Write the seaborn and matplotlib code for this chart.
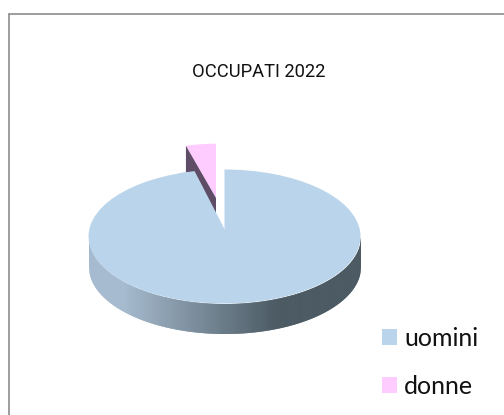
import numpy as np
import matplotlib
matplotlib.use('Agg')
import matplotlib.pyplot as plt
from matplotlib.lines import Line2D
from matplotlib.patches import Polygon
import seaborn as sns

title = 'OCCUPATI 2022'
labels = ['uomini', 'donne']
values = [95.6, 4.4]
colors = ['#BAD5EB', '#FFCCFF']

W, H = 504, 415
cx, cy, rx, ry = 224.5, 236.5, 136, 67
depth = 30 / ry

sns.set_theme(style='white')
palette = sns.color_palette(colors)

fig = plt.figure(figsize=(W / 100, H / 100), dpi=100, facecolor='white')
ax = fig.add_axes([0, 0, 1, 1])

wedges, _ = ax.pie(values, colors=palette, startangle=90, counterclock=False,
                   wedgeprops={'linewidth': 0, 'zorder': 4})
ax.set_aspect('auto')
ax.set_xlim(-cx / rx, (W - cx) / rx)
ax.set_ylim((cy - H) / ry, cy / ry)
ax.axis('off')

# the small slice is pulled out and drawn a bit smaller
pink = wedges[1]
pink.set_center((-8.5 / rx, 38.5 / ry))
pink.set_radius(0.81)
pink.set_zorder(3)

# side wall of the disc, each strip overlaps the next one so no seams show
xs = np.linspace(-1, 1, 400)
top = -np.sqrt(1 - xs ** 2)
light = np.array(matplotlib.colors.to_rgb('#A6BBCF'))
dark = np.array(matplotlib.colors.to_rgb('#4B5A63'))
for i in range(len(xs) - 1):
    t = np.clip((xs[i] + 0.75) / 1.13, 0, 1)
    ax.fill_between(xs[i:i + 3], top[i:i + 3], top[i:i + 3] - depth,
                    color=light + (dark - light) * t, lw=0, zorder=2)

# dark cut face of the small slice
a = np.radians(values[1] / 100 * 360)
px, py = pink.center
rim = (px - pink.r * np.sin(a), py + pink.r * np.cos(a))
ax.add_patch(Polygon([(px, py), rim, (rim[0], rim[1] - depth), (px, py - depth)],
                     closed=True, fc='#5F4C66', ec='none', zorder=3))

# blue wedge tip stops above the centre of the disc, patch overlaps the big wedge
tip = (0, 7.5 / ry)
arc = np.radians(np.linspace(12.7, np.degrees(a) + 4, 12))
patch_pts = ([tip] + list(zip(-np.sin(arc), np.cos(arc)))
             + [(-0.04, -0.06), (0.04, -0.06), (0.04, 0)])
ax.add_patch(Polygon(patch_pts, closed=True, fc=palette[0], ec='none', zorder=4))

# only the top and left border of the chart area are inside the crop
fig.add_artist(Line2D([8.5 / W, 8.5 / W], [0, 1 - 14.5 / H], color='#8C8C8C', lw=1.2))
fig.add_artist(Line2D([8.5 / W, 1], [1 - 14.5 / H, 1 - 14.5 / H], color='#8C8C8C', lw=1.2))

fig.text(258.5 / W, 1 - 72 / H, title, ha='center', va='center', color='#111111',
         family='Roboto', fontsize=13.2)

leg = ax.legend(wedges, labels, loc='upper left', bbox_to_anchor=(382 / W, 1 - 327 / H),
                frameon=False, handlelength=0.6, handleheight=0.6, handletextpad=0.28,
                labelspacing=1.0, borderpad=0, borderaxespad=0,
                prop={'family': 'Lato', 'size': 18})
for t in leg.get_texts():
    t.set_color('#111111')

fig.savefig('out.png', dpi=100)
